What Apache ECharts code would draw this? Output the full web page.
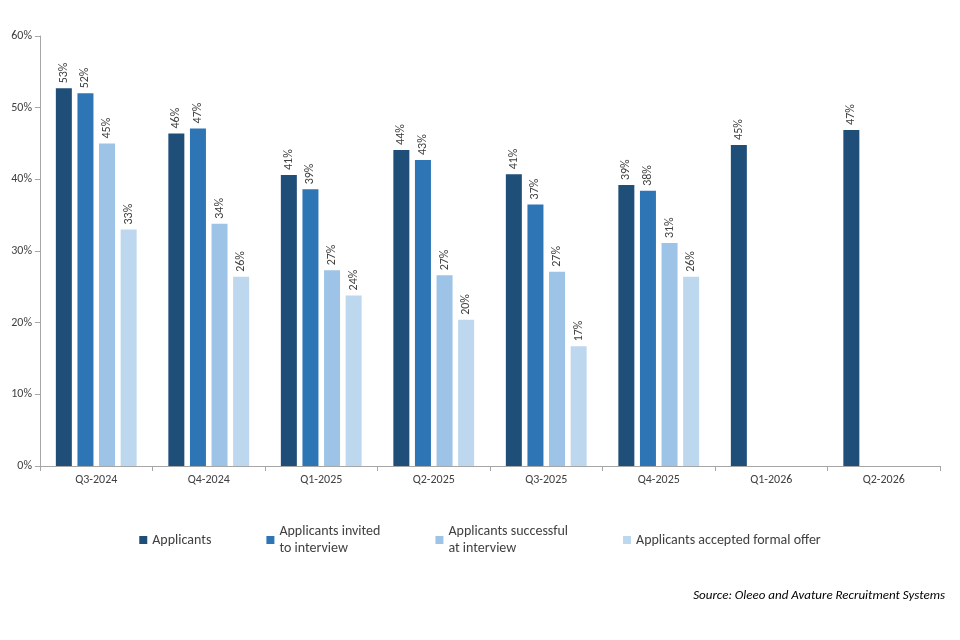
<!DOCTYPE html>
<html><head><meta charset="utf-8">
<script src="https://cdn.jsdelivr.net/npm/echarts@6/dist/echarts.min.js"></script>
<style>body{margin:0}#c{width:960px;height:640px}</style></head>
<body><div id="c"></div>
<script>
const categories=['Q3-2024','Q4-2024','Q1-2025','Q2-2025','Q3-2025','Q4-2025','Q1-2026','Q2-2026'];
const applicants=[52.7,46.4,40.6,44.1,40.7,39.2,44.8,46.9];
const invited=[52.0,47.1,38.6,42.7,36.5,38.4,null,null];
const successful=[45.0,33.8,27.3,26.6,27.1,31.1,null,null];
const accepted=[33.0,26.4,23.8,20.4,16.7,26.4,null,null];
const names=['Applicants','Applicants invited\nto interview','Applicants successful\nat interview','Applicants accepted formal offer'];
const colors=['#1F4E79','#2E75B6','#9DC3E6','#BDD7EE'];
const font='Calibri, Carlito, "Liberation Sans", sans-serif';
const mk=(n,d,i)=>({name:n,type:'bar',data:d,barWidth:16,barGap:'35%',itemStyle:{color:colors[i]},
 label:{show:true,position:'top',rotate:90,align:'left',verticalAlign:'middle',distance:5,color:'#404040',fontSize:12,fontFamily:font,
 formatter:p=>p.value==null?'':Math.round(p.value)+'%'}});
const chart=echarts.init(document.getElementById('c'));
chart.setOption({
 grid:{left:40,right:20,top:36,bottom:174},
 legend:{bottom:78,left:'center',itemWidth:8,itemHeight:8,itemGap:55,icon:'rect',
  textStyle:{fontSize:14,color:'#404040',fontFamily:font,lineHeight:17}},
 xAxis:{type:'category',data:categories,axisLine:{lineStyle:{color:'#a6a6a6'}},axisTick:{show:true,alignWithLabel:false,lineStyle:{color:'#a6a6a6'}},
  axisLabel:{color:'#404040',fontSize:12,fontFamily:font}},
 yAxis:{type:'value',min:0,max:60,interval:10,splitLine:{show:false},
  axisLine:{show:true,lineStyle:{color:'#a6a6a6'}},axisTick:{show:true,lineStyle:{color:'#a6a6a6'}},
  axisLabel:{formatter:'{value}%',color:'#404040',fontSize:12,fontFamily:font}},
 graphic:[{type:'text',right:15,top:589,style:{text:'Source: Oleeo and Avature Recruitment Systems',font:'italic 13px '+font,fill:'#000'}}],
 series:[mk(names[0],applicants,0),mk(names[1],invited,1),mk(names[2],successful,2),mk(names[3],accepted,3)]
});
</script></body></html>
